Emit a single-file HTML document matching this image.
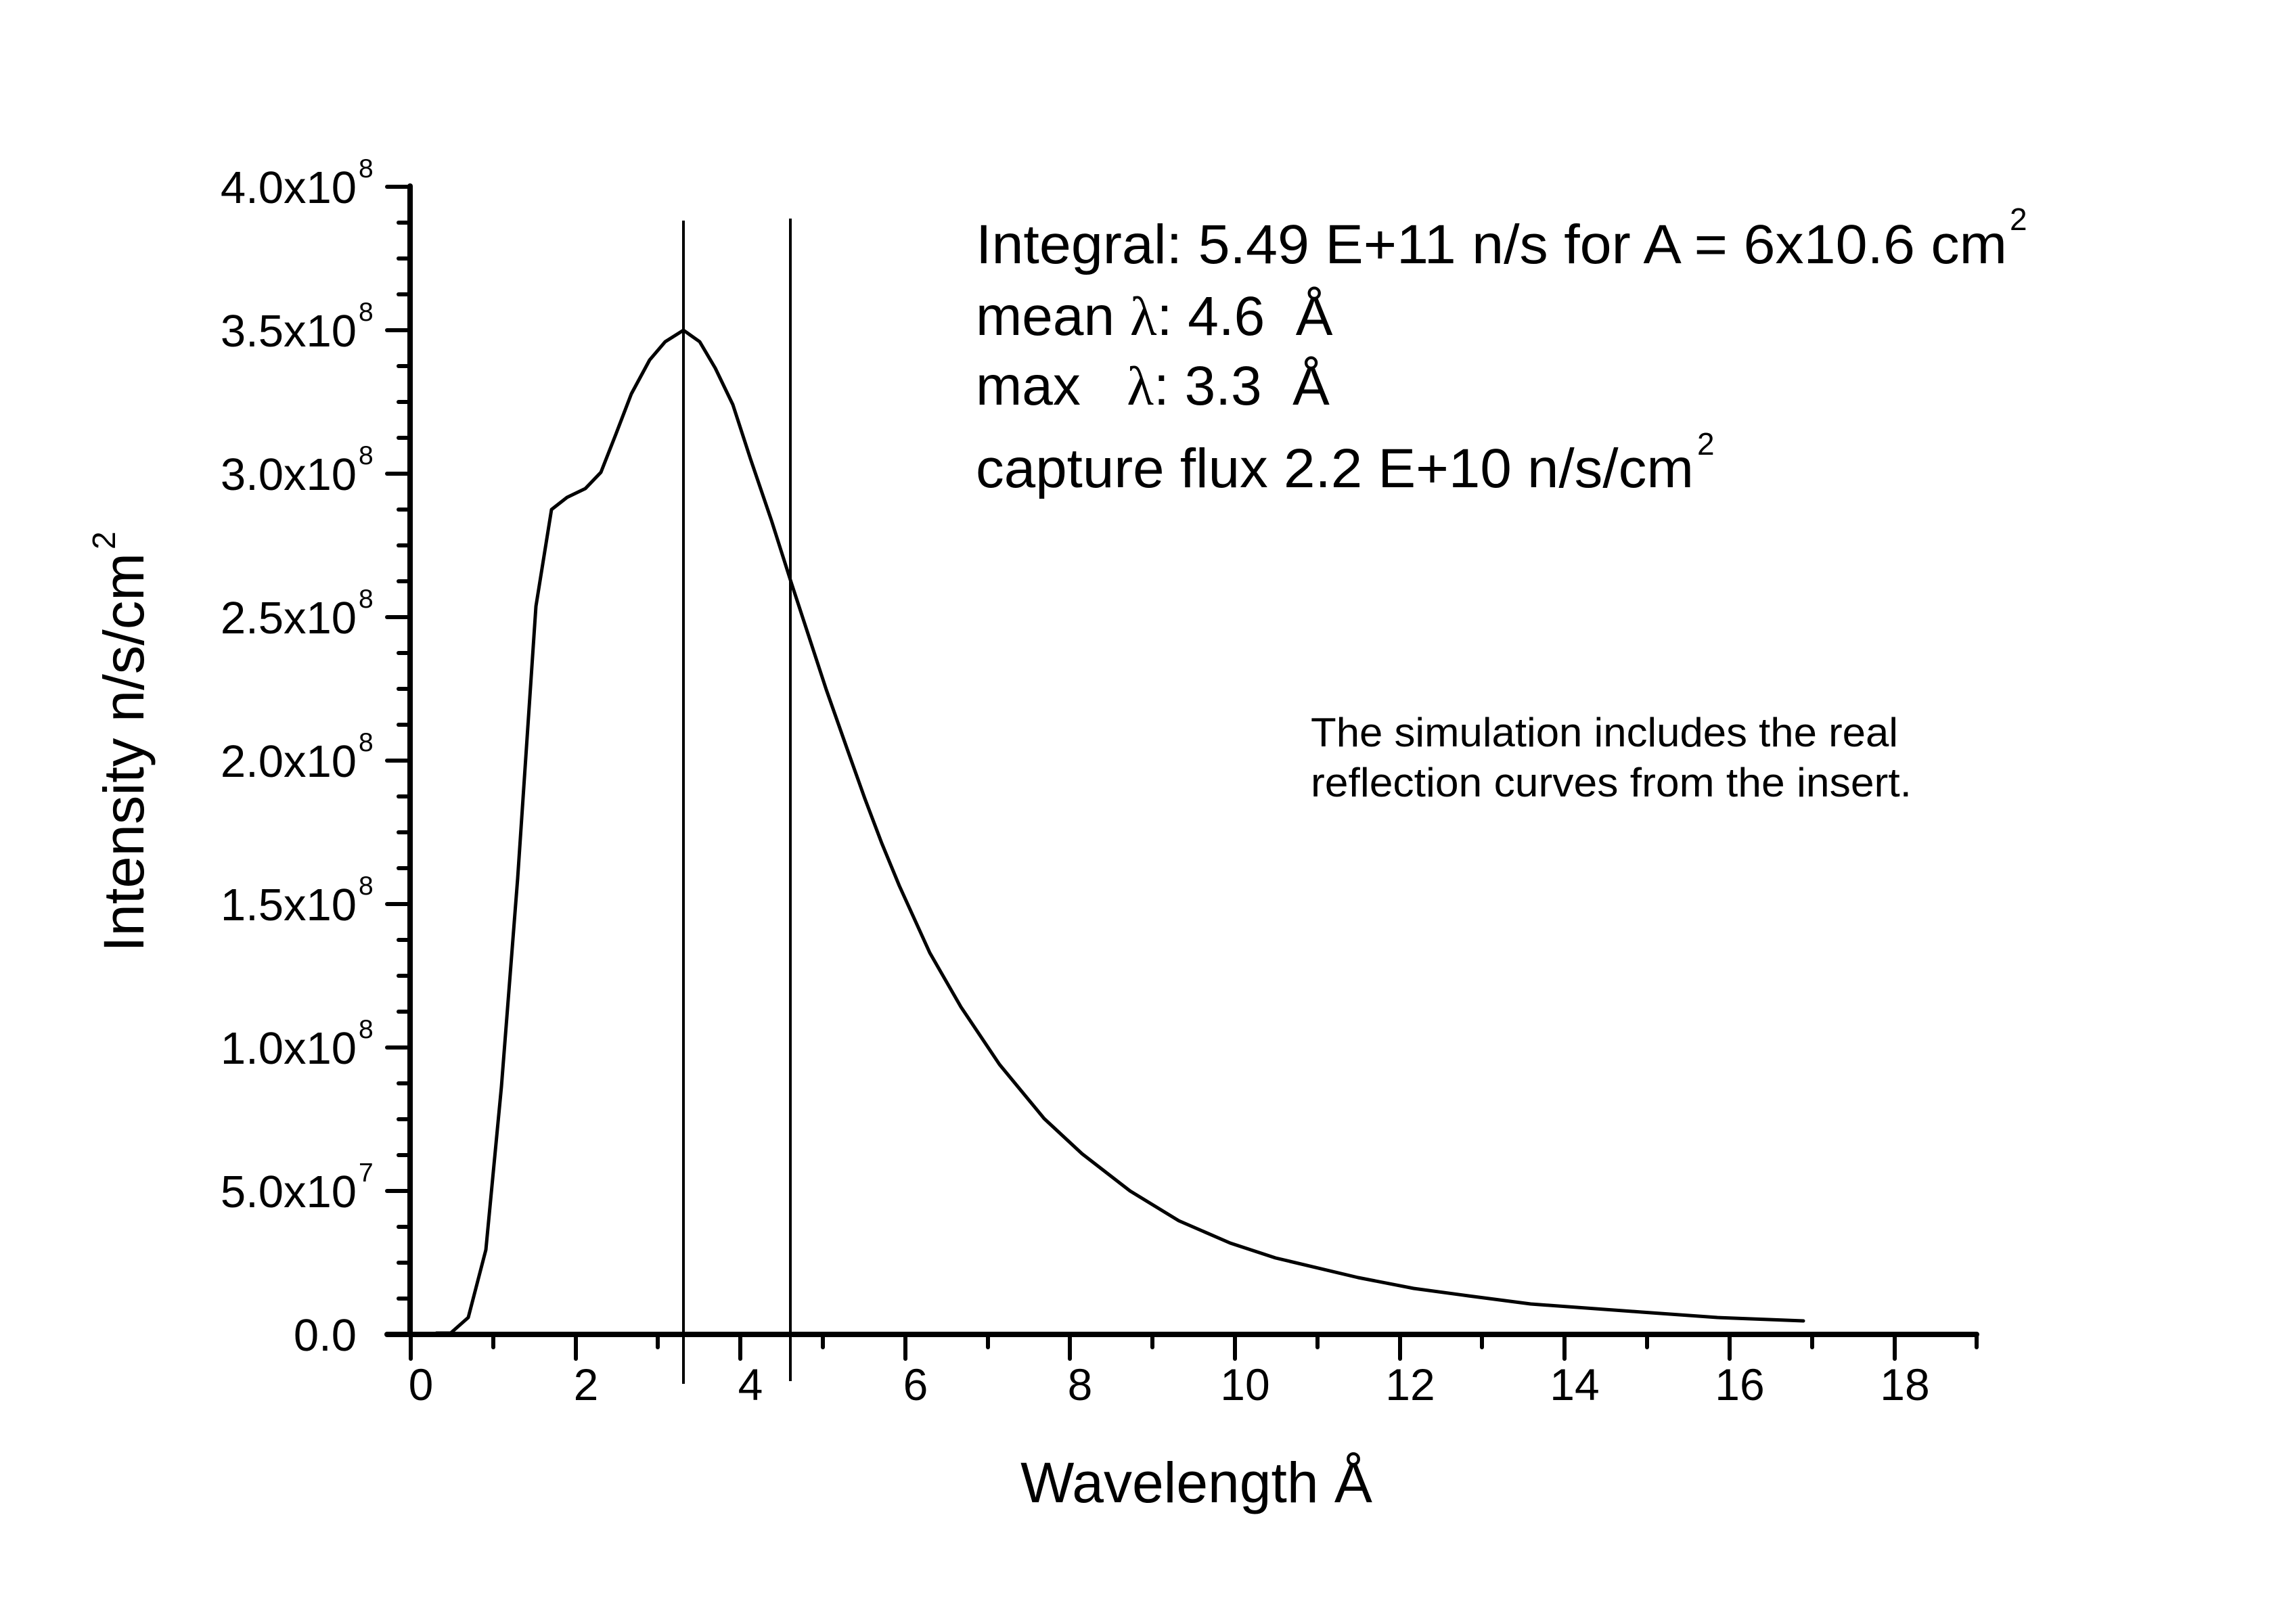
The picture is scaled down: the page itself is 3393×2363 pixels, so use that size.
<!DOCTYPE html>
<html><head><meta charset="utf-8"><style>
html,body{margin:0;padding:0;background:#fff;}
svg{display:block;}
text{font-family:"Liberation Sans",Arial,sans-serif;fill:#000;}
</style></head><body>
<svg width="3393" height="2363" viewBox="0 0 3393 2363" xmlns="http://www.w3.org/2000/svg">
<rect width="3393" height="2363" fill="#fff"/>
<g stroke="#000" stroke-linecap="round" fill="none">
<line x1="606" y1="275" x2="606" y2="1972" stroke-width="8"/>
<line x1="572" y1="1972" x2="2921" y2="1972" stroke-width="8"/>
<g stroke-width="6">
<line x1="572" y1="276" x2="606" y2="276"/><line x1="589" y1="329" x2="606" y2="329"/>
<line x1="589" y1="382" x2="606" y2="382"/><line x1="589" y1="435" x2="606" y2="435"/>
<line x1="572" y1="488" x2="606" y2="488"/><line x1="589" y1="541" x2="606" y2="541"/>
<line x1="589" y1="594" x2="606" y2="594"/><line x1="589" y1="647" x2="606" y2="647"/>
<line x1="572" y1="700" x2="606" y2="700"/><line x1="589" y1="753" x2="606" y2="753"/>
<line x1="589" y1="806" x2="606" y2="806"/><line x1="589" y1="859" x2="606" y2="859"/>
<line x1="572" y1="912" x2="606" y2="912"/><line x1="589" y1="965" x2="606" y2="965"/>
<line x1="589" y1="1018" x2="606" y2="1018"/><line x1="589" y1="1071" x2="606" y2="1071"/>
<line x1="572" y1="1124" x2="606" y2="1124"/><line x1="589" y1="1177" x2="606" y2="1177"/>
<line x1="589" y1="1230" x2="606" y2="1230"/><line x1="589" y1="1283" x2="606" y2="1283"/>
<line x1="572" y1="1336" x2="606" y2="1336"/><line x1="589" y1="1389" x2="606" y2="1389"/>
<line x1="589" y1="1442" x2="606" y2="1442"/><line x1="589" y1="1495" x2="606" y2="1495"/>
<line x1="572" y1="1548" x2="606" y2="1548"/><line x1="589" y1="1601" x2="606" y2="1601"/>
<line x1="589" y1="1654" x2="606" y2="1654"/><line x1="589" y1="1707" x2="606" y2="1707"/>
<line x1="572" y1="1760" x2="606" y2="1760"/><line x1="589" y1="1813" x2="606" y2="1813"/>
<line x1="589" y1="1866" x2="606" y2="1866"/><line x1="589" y1="1919" x2="606" y2="1919"/>
<line x1="607" y1="1972" x2="607" y2="2008"/><line x1="729" y1="1972" x2="729" y2="1991"/>
<line x1="851" y1="1972" x2="851" y2="2008"/><line x1="972" y1="1972" x2="972" y2="1991"/>
<line x1="1094" y1="1972" x2="1094" y2="2008"/><line x1="1216" y1="1972" x2="1216" y2="1991"/>
<line x1="1338" y1="1972" x2="1338" y2="2008"/><line x1="1460" y1="1972" x2="1460" y2="1991"/>
<line x1="1581" y1="1972" x2="1581" y2="2008"/><line x1="1703" y1="1972" x2="1703" y2="1991"/>
<line x1="1825" y1="1972" x2="1825" y2="2008"/><line x1="1947" y1="1972" x2="1947" y2="1991"/>
<line x1="2069" y1="1972" x2="2069" y2="2008"/><line x1="2190" y1="1972" x2="2190" y2="1991"/>
<line x1="2312" y1="1972" x2="2312" y2="2008"/><line x1="2434" y1="1972" x2="2434" y2="1991"/>
<line x1="2556" y1="1972" x2="2556" y2="2008"/><line x1="2678" y1="1972" x2="2678" y2="1991"/>
<line x1="2800" y1="1972" x2="2800" y2="2008"/><line x1="2921" y1="1972" x2="2921" y2="1991"/>
</g>
<line x1="1010" y1="326" x2="1010" y2="2045" stroke-width="4" stroke-linecap="butt"/>
<line x1="1168" y1="323" x2="1168" y2="2041" stroke-width="4" stroke-linecap="butt"/>
<polyline stroke-width="5" stroke-linejoin="round" points="645,1970 666,1970 692,1947 718,1847 741,1606 765,1298 792,896 815,753 838,735 865,722 888,698 910,642 933,582 960,532 983,505 1010,488 1034,505 1057,544 1083,598 1109,678 1140,769 1168,857 1221,1019 1252,1107 1278,1180 1303,1246 1329,1309 1374,1408 1420,1488 1477,1573 1543,1653 1599,1705 1670,1760 1742,1804 1818,1837 1885,1859 2007,1888 2089,1904 2170,1915 2262,1927 2426,1939 2538,1947 2665,1952"/>
</g>
<g font-size="67" text-anchor="end">
<text x="527" y="300">4.0x10</text><text x="527" y="512">3.5x10</text>
<text x="527" y="724">3.0x10</text><text x="527" y="936">2.5x10</text>
<text x="527" y="1148">2.0x10</text><text x="527" y="1360">1.5x10</text>
<text x="527" y="1572">1.0x10</text><text x="527" y="1784">5.0x10</text>
<text x="527" y="1996">0.0</text>
</g>
<g font-size="39">
<text x="530" y="262">8</text><text x="530" y="474">8</text><text x="530" y="686">8</text>
<text x="530" y="898">8</text><text x="530" y="1110">8</text><text x="530" y="1322">8</text>
<text x="530" y="1534">8</text><text x="530" y="1746">7</text>
</g>
<g font-size="66" text-anchor="middle">
<text x="622" y="2069">0</text><text x="866" y="2069">2</text><text x="1109" y="2069">4</text>
<text x="1353" y="2069">6</text><text x="1596" y="2069">8</text><text x="1840" y="2069">10</text>
<text x="2084" y="2069">12</text><text x="2327" y="2069">14</text><text x="2571" y="2069">16</text>
<text x="2815" y="2069">18</text>
</g>
<text x="1768" y="2220" font-size="84" text-anchor="middle">Wavelength Å</text>
<text transform="translate(212,1407) rotate(-90)" font-size="84" textLength="590" lengthAdjust="spacingAndGlyphs">Intensity n/s/cm</text>
<text transform="translate(170,812) rotate(-90)" font-size="48">2</text>
<g font-size="82">
<text x="1442" y="389" textLength="1524" lengthAdjust="spacingAndGlyphs">Integral: 5.49 E+11 n/s for A = 6x10.6 cm</text>
<text x="2970" y="340" font-size="46">2</text>
<text x="1442" y="495" xml:space="preserve">mean <tspan font-family="Liberation Serif, serif">λ</tspan>: 4.6  Å</text>
<text x="1442" y="598" xml:space="preserve">max   <tspan font-family="Liberation Serif, serif">λ</tspan>: 3.3  Å</text>
<text x="1442" y="720" textLength="1061" lengthAdjust="spacingAndGlyphs">capture flux 2.2 E+10 n/s/cm</text>
<text x="2508" y="672" font-size="46">2</text>
</g>
<g font-size="60">
<text x="1937" y="1103" textLength="868" lengthAdjust="spacingAndGlyphs">The simulation includes the real</text>
<text x="1937" y="1177" textLength="888" lengthAdjust="spacingAndGlyphs">reflection curves from the insert.</text>
</g>
</svg>
</body></html>
